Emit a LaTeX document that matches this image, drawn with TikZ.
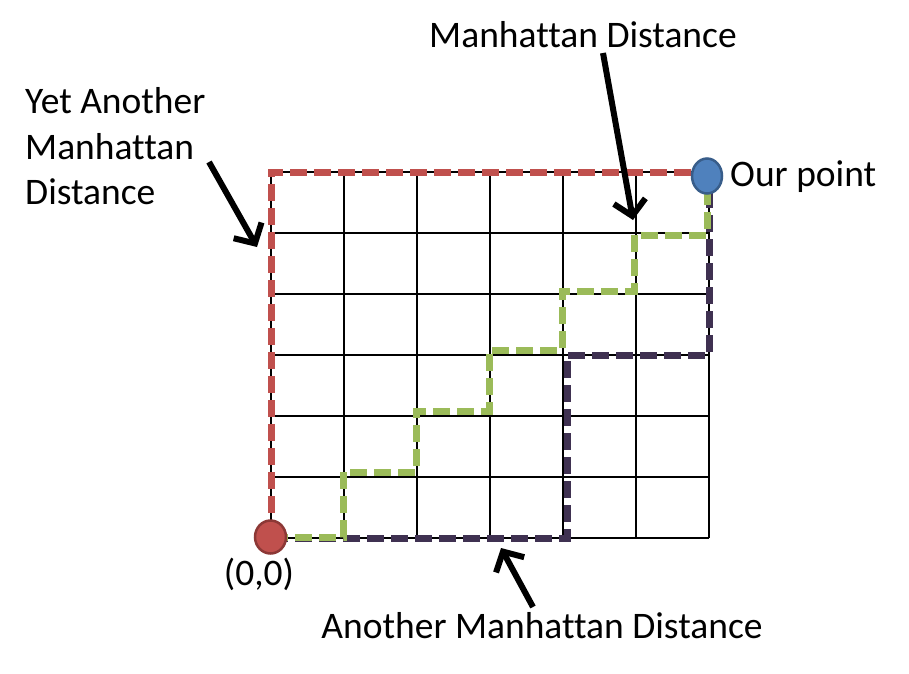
\documentclass[tikz,border=0pt]{standalone}
\usepackage{fontspec}
\setmainfont{Carlito}[Ligatures=NoCommon]
\usetikzlibrary{arrows.meta,shapes.geometric}
\definecolor{pred}{HTML}{C0504D}
\definecolor{pgreen}{HTML}{9BBB59}
\definecolor{ppurple}{HTML}{3F3151}
\definecolor{pblue}{HTML}{4F81BD}
\definecolor{pblueb}{HTML}{385D8A}
\definecolor{predb}{HTML}{8C3836}
\tikzset{
  gridline/.style={line width=2pt, black},
  route/.style={line width=7pt, dash pattern=on 17pt off 7pt},
  lbl/.style={inner sep=0pt, font=\fontsize{37.5}{45}\selectfont},
  pointer/.style={line width=6pt, black, -{Straight Barb[length=15pt,width=32pt]}},
  dot/.style={ellipse, minimum width=#1, line width=2.5pt, inner sep=0pt},
}
\begin{document}
\begin{tikzpicture}[x=1pt,y=-1pt]
\useasboundingbox (0,0) rectangle (909,673);
% grid
\foreach \x in {271,344,417,490,563,636,709} \draw[gridline] (\x,172) -- (\x,538);
\foreach \y in {172,233,294,355,416,477,538} \draw[gridline] (271,\y) -- (709,\y);
% routes
\draw[route, ppurple] (271,538) -- (567,538) -- (567,355) -- (709,355) -- (709,190);
\draw[route, pgreen] (271,537) -- (343,537) -- (343,472) -- (416,472) -- (416,411) -- (489,411) -- (489,350) -- (562,350) -- (562,291) -- (634,291) -- (634,235) -- (707,235) -- (707,190);
\draw[route, pred] (271,537) -- (271,172) -- (709,172);
% points
\node[dot=31pt, minimum height=33pt, draw=predb, fill=pred] (origin) at (270.5,537) {};
\node[dot=30pt, minimum height=35pt, draw=pblueb, fill=pblue] (ourpt) at (707,176) {};
% labels
\node[lbl, anchor=base west] (ourlbl) at (730,186) {Our point};
\node[lbl, anchor=base] (originlbl) at (259,585) {(0,0)};
\node[lbl, anchor=base] (md) at (583,47) {Manhattan Distance};
\node[lbl, anchor=base west] (yamd1) at (25,113) {Yet Another};
\node[lbl, anchor=base west] (yamd2) at (25,159) {Manhattan};
\node[lbl, anchor=base west] (yamd3) at (25,204) {Distance};
\node[lbl, anchor=base] (amd) at (542,638) {Another Manhattan Distance};
% arrows
\coordinate (a1s) at (603,53);
\coordinate (a1e) at (633,220);
\coordinate (a2s) at (209,162);
\coordinate (a2e) at (257,247);
\coordinate (a3s) at (533,607);
\coordinate (a3e) at (501,548);
\draw[pointer] (a1s) -- (a1e);
\draw[pointer] (a2s) -- (a2e);
\draw[pointer] (a3s) -- (a3e);
\end{tikzpicture}
\end{document}
